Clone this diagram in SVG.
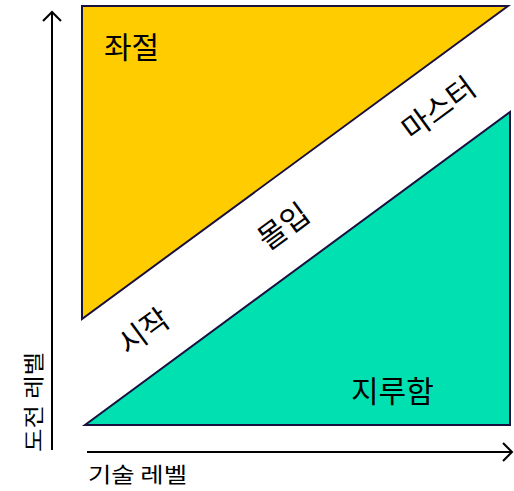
<svg xmlns="http://www.w3.org/2000/svg" width="514" height="491" viewBox="0 0 514 491">
<style>
.t{font-family:"Noto Sans CJK KR","Noto Sans",sans-serif;fill:#000}
.big{font-size:30px}
.ax{font-size:21px}
.tri{stroke:#1a1040;stroke-width:2;stroke-linejoin:miter}
.axis{stroke:#000;stroke-width:2;fill:none}
</style>
<rect width="514" height="491" fill="#fff"/>
<g id="frustration">
<polygon class="tri" points="82,6 508,6 82,319" fill="#ffcc00"/>
<text class="t big" x="104" y="58">좌절</text>
</g>
<g id="boredom">
<polygon class="tri" points="85,425 510,425 510,112" fill="#00e0b0"/>
<text class="t big" x="351" y="402">지루함</text>
</g>
<g id="flow">
<text class="t big" text-anchor="middle" transform="translate(150,340) rotate(-36.3)">시작</text>
<text class="t big" text-anchor="middle" transform="translate(290,235) rotate(-36.3)">몰입</text>
<text class="t big" text-anchor="middle" transform="translate(445,117) rotate(-36.3)">마스터</text>
</g>
<g id="axes">
<path class="axis" d="M52,450 V12 M43,21 L52,12 L61,21"/>
<path class="axis" d="M87,452 H512 M503,443 L512,452 L503,461"/>
<text class="t ax" x="88" y="482" textLength="99" lengthAdjust="spacingAndGlyphs">기술 레벨</text>
<text class="t ax" text-anchor="middle" transform="translate(41,402) rotate(-90)" textLength="100" lengthAdjust="spacingAndGlyphs">도전 레벨</text>
</g>
</svg>
